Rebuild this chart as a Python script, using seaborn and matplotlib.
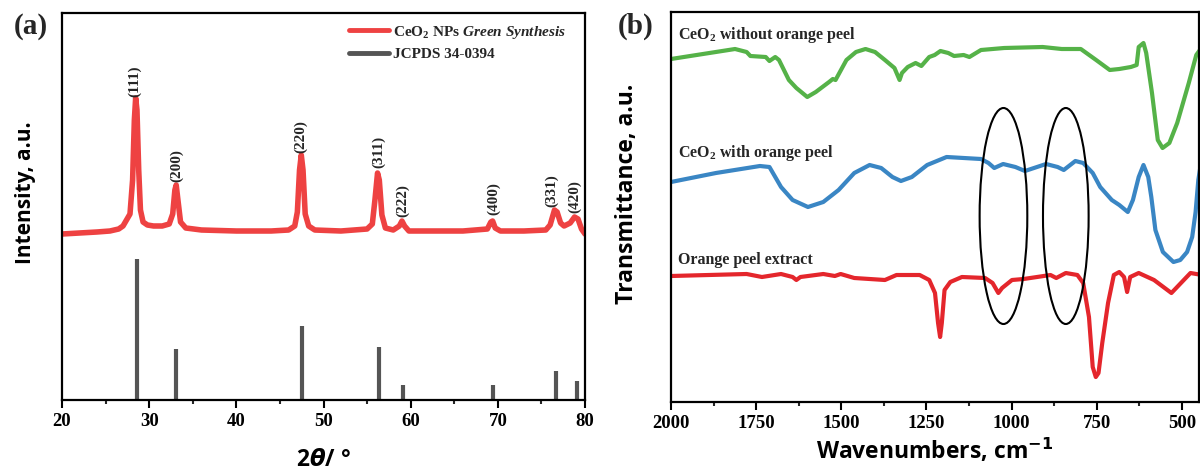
import matplotlib
matplotlib.use("Agg")
import matplotlib.pyplot as plt
from matplotlib.lines import Line2D
from matplotlib.patches import Ellipse
import pandas as pd
import seaborn as sns

# ---- (a) XRD, CeO2 NPs green synthesis (a.u.)
xrd_2theta = [20.0, 22.0, 24.0, 25.5, 26.5, 27.0, 27.4, 27.8, 28.1, 28.3, 28.45, 28.6,
              28.8, 29.0, 29.3, 29.8, 30.5, 31.5, 32.3, 32.7, 32.95, 33.1, 33.3, 33.6,
              34.2, 36.0, 40.0, 44.0, 46.0, 46.7, 47.0, 47.25, 47.45, 47.65, 47.9, 48.3,
              49.0, 52.0, 55.0, 55.6, 55.9, 56.2, 56.4, 56.7, 57.1, 58.0, 58.7, 59.0,
              59.3, 59.8, 62.0, 66.0, 68.8, 69.2, 69.4, 69.7, 70.3, 73.0, 75.5, 76.0,
              76.5, 76.8, 77.2, 77.6, 78.3, 78.8, 79.2, 79.6, 80.0]
xrd_counts = [166, 167, 168, 169, 171, 174, 180, 186, 220, 280, 302, 290,
              230, 190, 178, 175, 174, 174, 176, 186, 210, 215, 200, 178,
              172, 170, 169, 169, 170, 174, 188, 230, 245, 230, 186, 174,
              170, 169, 171, 176, 200, 227, 220, 185, 172, 170, 174, 179,
              174, 169, 169, 169, 171, 178, 179, 172, 169, 169, 170, 175,
              190, 188, 177, 174, 177, 183, 181, 171, 166]

# JCPDS 34-0394 reference lines
jcpds_2theta = [28.55, 33.08, 47.48, 56.33, 59.08, 69.40, 76.70, 79.07]
jcpds_height = [141, 51, 74, 53, 15, 15, 29, 19]

hkl_labels = ["(111)", "(200)", "(220)", "(311)", "(222)", "(400)", "(331)", "(420)"]
hkl_x = [28.32, 33.2, 47.4, 56.35, 59.07, 69.5, 76.15, 78.8]
hkl_y = [303, 218, 247, 232, 183, 185, 193, 187]

# ---- (b) FTIR spectra (transmittance, a.u., offset as in the figure)
wn_no_peel = [2000, 1812, 1778, 1767, 1722, 1711, 1694, 1683, 1654, 1632, 1600, 1575,
              1536, 1525, 1517, 1485, 1457, 1429, 1401, 1372, 1344, 1329, 1322, 1305,
              1282, 1265, 1242, 1226, 1209, 1186, 1169, 1141, 1124, 1090, 1022, 909,
              853, 797, 752, 712, 684, 650, 633, 627, 613, 605, 588, 571, 557, 537,
              514, 480, 458, 441]
t_no_peel = [343, 353, 350, 346, 345, 341, 345, 342, 322, 314, 305, 310,
             320, 323, 322, 342, 350, 353, 350, 342, 334, 322, 329, 335,
             339, 336, 345, 347, 351, 349, 346, 347, 345, 352, 354, 355,
             353, 353, 342, 332, 333, 335, 337, 355, 359, 349, 309, 262, 254, 259,
             279, 319, 347, 355]

wn_with_peel = [2000, 1868, 1739, 1711, 1677, 1643, 1598, 1553, 1508, 1462, 1417, 1383,
                1350, 1325, 1293, 1248, 1191, 1090, 1068, 1051, 1025, 989, 961, 899,
                865, 847, 813, 790, 762, 740, 706, 684, 659, 644, 627, 613, 599, 590,
                578, 556, 525, 505, 485, 470, 460, 452, 445]
t_with_peel = [220, 229, 236, 235, 215, 202, 195, 200, 212, 229, 237, 234,
               225, 221, 225, 237, 245, 243, 239, 234, 238, 235, 231, 238,
               235, 232, 241, 239, 229, 215, 202, 197, 190, 202, 225, 237, 225, 205,
               172, 150, 140, 142, 150, 165, 190, 222, 237]

wn_extract = [2000, 1778, 1733, 1677, 1643, 1632, 1620, 1553, 1519, 1502, 1462, 1372,
              1338, 1270, 1242, 1225, 1216, 1210, 1205, 1197, 1180, 1146, 1078, 1056,
              1039, 1028, 999, 965, 886, 869, 841, 807, 790, 773, 762, 753, 745, 734,
              717, 700, 684, 670, 661, 652, 627, 582, 531, 503, 475, 441]
t_extract = [126, 128, 125, 128, 125, 122, 125, 128, 126, 128, 124, 122,
             127, 127, 122, 109, 79, 65, 79, 112, 120, 125, 124, 119,
             109, 114, 122, 123, 127, 124, 129, 127, 119, 85, 35, 25, 29, 59,
             99, 127, 130, 125, 110, 125, 129, 122, 109, 119, 129, 127]

sample_names = ["CeO$_2$ without orange peel", "CeO$_2$ with orange peel", "Orange peel extract"]
sample_colors = ["#55b248", "#3a86c4", "#e4262c"]
sample_label_xy = [(1980, 367), (1980, 249), (1980, 142)]

# highlighted bands (ellipses): centre wavenumber, width, centre T, height
band_centers = [1024, 841]
band_widths = [140, 134]
band_y = 186
band_height = 216

sns.set_theme(style="ticks")
plt.rcParams["font.family"] = ["Liberation Serif", "DejaVu Serif"]
plt.rcParams["font.weight"] = "bold"
plt.rcParams["mathtext.fontset"] = "custom"
plt.rcParams["mathtext.rm"] = "Liberation Serif:bold"
plt.rcParams["mathtext.it"] = "Liberation Serif:bold:italic"
plt.rcParams["mathtext.bf"] = "Liberation Serif:bold"
plt.rcParams["axes.linewidth"] = 1.6
plt.rcParams["axes.edgecolor"] = "black"

fig = plt.figure(figsize=(12, 4.74), dpi=100)
ax1 = fig.add_axes([62 / 1200, 74 / 474, 523 / 1200, 387 / 474])
ax2 = fig.add_axes([671 / 1200, 72 / 474, 528 / 1200, 390 / 474])

label_font = dict(family="Open Sans", weight="bold", size=16.5, color="black")
tick_kw = dict(direction="out", width=1.5, labelsize=13.5, pad=3, colors="black")

# ---------------- (a)
xrd = pd.DataFrame({"two_theta": xrd_2theta, "counts": xrd_counts})
sns.lineplot(data=xrd, x="two_theta", y="counts", ax=ax1, color="#ee4242",
             lw=4, estimator=None, sort=False)
ax1.vlines(jcpds_2theta, 0, jcpds_height, color="#555555", lw=3)
for lab, x, y in zip(hkl_labels, hkl_x, hkl_y):
    ax1.text(x, y, lab, rotation=90, ha="center", va="bottom", fontsize=11,
             fontweight="bold")

ax1.set_xlim(20, 80)
ax1.set_ylim(0, 387)
ax1.set_xticks(range(20, 81, 10))
ax1.set_xticks(range(25, 80, 10), minor=True)
ax1.set_yticks([])
ax1.tick_params(axis="x", which="major", length=6, **tick_kw)
ax1.tick_params(axis="x", which="minor", length=3, direction="out", width=1.5)
ax1.set_xlabel(r"2$\theta$/ °", math_fontfamily="dejavusans", **label_font)
ax1.set_ylabel("Intensity, a.u.", **{**label_font, "size": 15})
ax1.xaxis.set_label_coords(0.5, -0.125)
ax1.yaxis.set_label_coords(-0.05, 0.535)

handles = [Line2D([], [], color="#ee4242", lw=3.5),
           Line2D([], [], color="#555555", lw=3.5)]
ax1.legend(handles, [r"CeO$_2$ NPs $\mathit{Green\ Synthesis}$", "JCPDS 34-0394"],
           loc="upper left", bbox_to_anchor=(0.549, 0.972), frameon=False,
           borderpad=0, borderaxespad=0, handlelength=2.6, handletextpad=0.3,
           labelspacing=0.45, prop=dict(family="Liberation Serif", weight="bold", size=11))

# ---------------- (b)
ftir = pd.concat([
    pd.DataFrame({"wavenumber": wn_no_peel, "T": t_no_peel, "sample": sample_names[0]}),
    pd.DataFrame({"wavenumber": wn_with_peel, "T": t_with_peel, "sample": sample_names[1]}),
    pd.DataFrame({"wavenumber": wn_extract, "T": t_extract, "sample": sample_names[2]}),
])
sns.lineplot(data=ftir, x="wavenumber", y="T", hue="sample",
             palette=dict(zip(sample_names, sample_colors)), ax=ax2, lw=3,
             estimator=None, sort=False, legend=False)
for name, (x, y) in zip(sample_names, sample_label_xy):
    ax2.text(x, y, name, ha="left", va="center", fontsize=11.5, fontweight="bold")
for c, w in zip(band_centers, band_widths):
    ax2.add_patch(Ellipse((c, band_y), w, band_height, fill=False,
                          edgecolor="black", lw=1.5, zorder=5))

ax2.set_xlim(2000, 450)
ax2.set_ylim(0, 390)
ax2.set_xticks(range(2000, 499, -250))
ax2.set_xticks(range(1875, 449, -250), minor=True)
ax2.set_yticks([])
ax2.tick_params(axis="x", which="major", length=6, **tick_kw)
ax2.tick_params(axis="x", which="minor", length=3, direction="out", width=1.5)
ax2.set_xlabel(r"Wavenumbers, cm$^{\mathit{-1}}$", math_fontfamily="dejavusans", **label_font)
ax2.set_ylabel("Transmittance, a.u.", **label_font)
ax2.xaxis.set_label_coords(0.5, -0.09)
ax2.yaxis.set_label_coords(-0.06, 0.533)

fig.text(31 / 1200, 1 - 26 / 474, "(a)", ha="center", va="center", fontsize=21,
         fontweight="bold")
fig.text(636 / 1200, 1 - 26 / 474, "(b)", ha="center", va="center", fontsize=21,
         fontweight="bold")

fig.savefig("out.png", dpi=100)
